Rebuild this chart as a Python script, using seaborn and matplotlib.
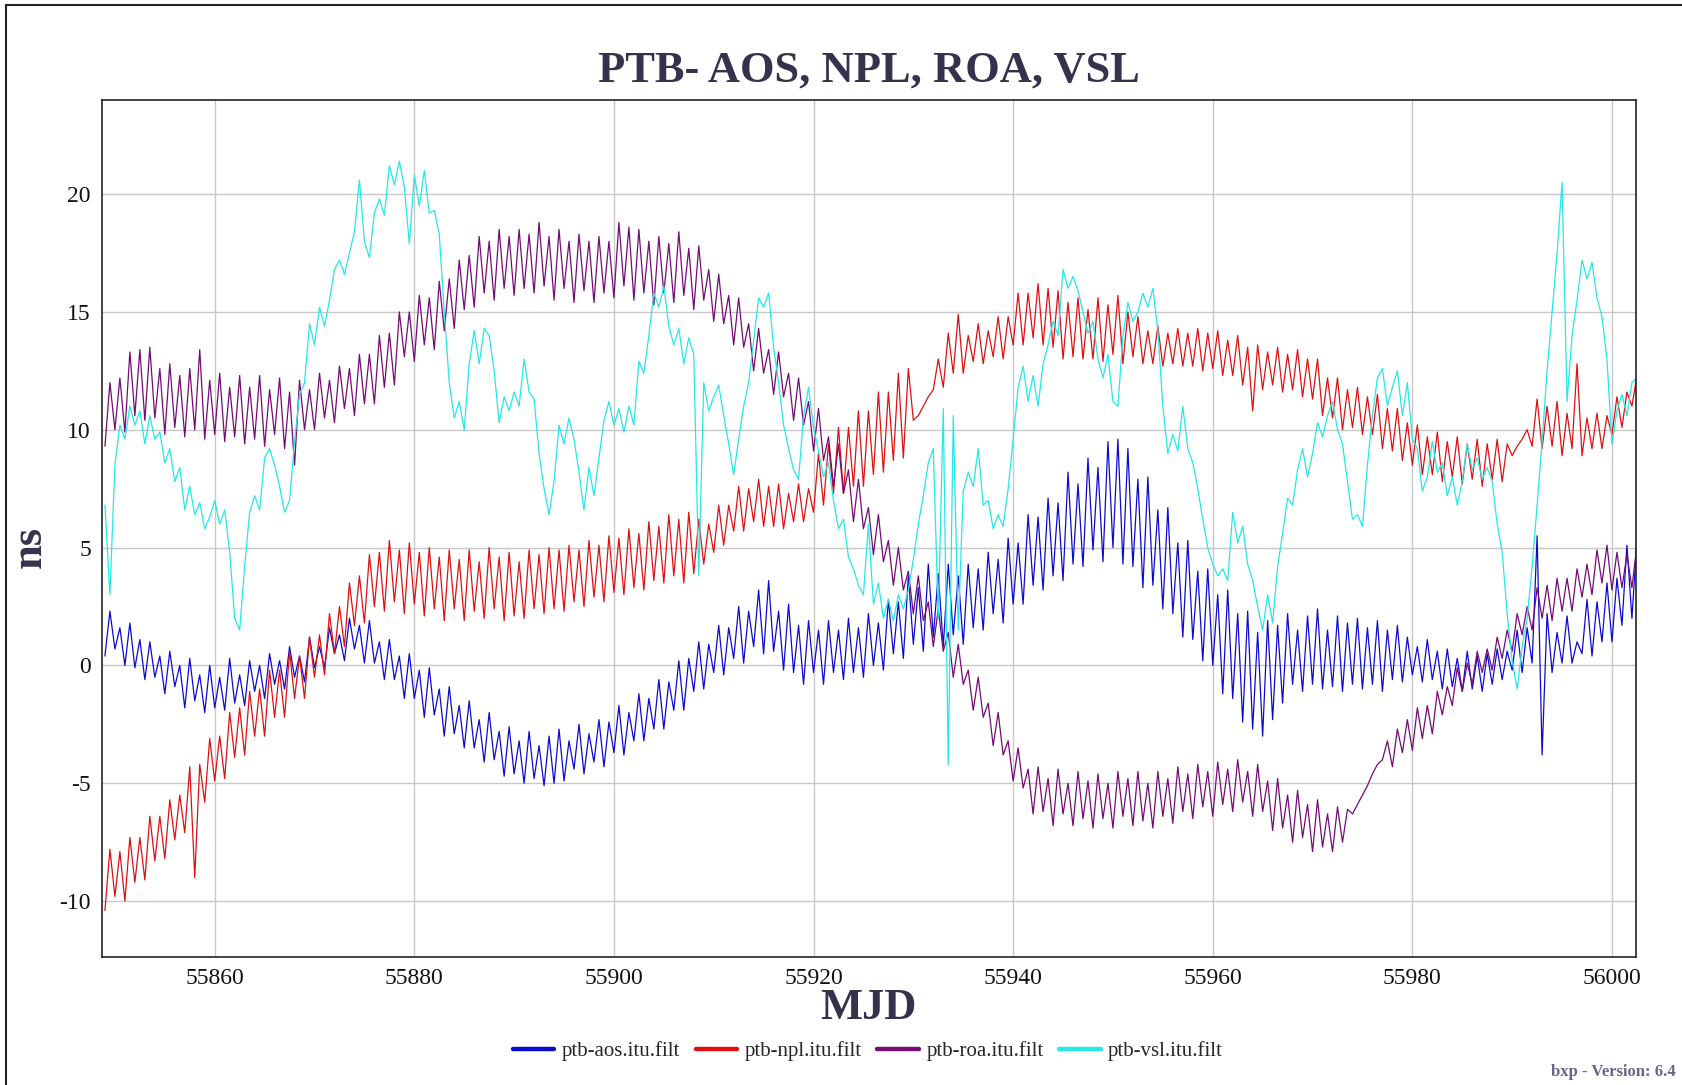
import numpy as np
import pandas as pd
import matplotlib
matplotlib.use("Agg")
import matplotlib.pyplot as plt
import seaborn as sns
from matplotlib.lines import Line2D

# ---------------- data ----------------
START_MJD = 55849          # first day of the daily lo/hi swings

series_names = ["ptb-aos.itu.filt", "ptb-npl.itu.filt", "ptb-roa.itu.filt", "ptb-vsl.itu.filt"]
series_colors = ["#0b0bd0", "#dd1111", "#760a76", "#25e8e8"]

x_ticks = [55860, 55880, 55900, 55920, 55940, 55960, 55980, 56000]
y_ticks = [-10, -5, 0, 5, 10, 15, 20]

# ptb-aos : daily low (at MJD d) and high (at MJD d+0.5), ns
aos_lo = [0.4, 0.7, 0.0, -0.1, -0.6, -0.5, -1.2, -0.9, -1.8, -1.5,
          -2.0, -1.8, -1.9, -1.6, -1.7, -1.1, -1.4, -0.8, -1.0, -0.5,
          -0.7, -0.1, -0.1, 0.5, 0.2, 0.7, 0.1, 0.1, -0.6, -0.6,
          -1.4, -1.4, -2.2, -2.1, -3.0, -2.9, -3.5, -3.5, -4.1, -4.0,
          -4.7, -4.6, -5.0, -4.8, -5.1, -5.0, -4.9, -4.4, -4.6, -4.1,
          -4.3, -3.7, -3.8, -3.2, -3.2, -2.7, -2.7, -1.9, -1.9, -1.1,
          -1.0, -0.3, -0.4, 0.3, 0.1, 0.8, 0.5, 0.6, -0.2, -0.3,
          -0.8, -0.3, -0.8, -0.3, -0.6, -0.3, -0.5, 0.0, -0.2, 0.5,
          0.3, 0.9, 0.6, 1.2, 0.8, 1.3, 0.9, 1.6, 1.5, 2.2,
          1.8, 2.6, 2.6, 3.4, 3.2, 3.8, 3.6, 4.3, 4.2, 4.9,
          4.4, 5.0, 4.3, 4.2, 3.3, 3.4, 2.4, 2.2, 1.2, 1.1,
          0.2, 0.0, -1.2, -1.4, -2.4, -2.7, -3.0, -2.3, -1.6, -0.8,
          -1.1, -0.8, -1.0, -0.9, -1.1, -0.8, -1.0, -0.8, -1.1, -0.6,
          -0.7, -0.4, -0.7, -0.6, -1.0, -0.9, -1.1, -1.0, -1.1, -0.8,
          -0.6, -0.2, -0.3, 0.1, -3.8, -0.3, 0.1, 0.1, 0.5, 0.4,
          1.0, 1.0, 1.7, 2.0]
aos_hi = [2.3, 1.6, 1.8, 1.1, 1.0, 0.4, 0.6, 0.0, 0.3, -0.4,
          0.0, -0.5, 0.3, -0.4, 0.2, 0.0, 0.5, 0.2, 0.8, 0.4,
          1.2, 0.8, 1.6, 1.3, 2.0, 1.7, 1.9, 1.0, 1.1, 0.4,
          0.5, -0.2, -0.1, -1.0, -0.9, -1.7, -1.5, -2.3, -2.0, -2.8,
          -2.6, -3.2, -2.8, -3.4, -3.0, -2.7, -3.2, -2.5, -2.9, -2.3,
          -2.4, -1.7, -2.0, -1.2, -1.4, -0.6, -0.7, 0.2, 0.3, 1.0,
          0.9, 1.7, 1.6, 2.5, 2.3, 3.2, 3.6, 2.3, 2.6, 1.7,
          1.9, 1.5, 1.9, 1.5, 2.0, 1.6, 2.2, 1.8, 2.8, 2.7,
          3.8, 3.3, 4.3, 3.9, 4.3, 3.8, 4.3, 4.1, 4.8, 4.5,
          5.4, 5.2, 6.4, 6.3, 7.1, 6.9, 8.2, 7.7, 8.8, 8.4,
          9.5, 9.6, 9.2, 7.9, 8.0, 6.6, 6.7, 5.2, 5.3, 4.0,
          4.1, 3.0, 3.2, 2.2, 2.3, 1.4, 1.9, 1.7, 2.2, 1.5,
          2.1, 2.4, 1.5, 2.1, 1.8, 2.0, 1.6, 1.9, 1.5, 1.7,
          1.2, 0.8, 1.1, 0.6, 0.7, 0.3, 0.6, 0.4, 0.5, 0.7,
          0.6, 1.5, 1.6, 5.5, 2.2, 1.4, 2.1, 1.0, 2.8, 2.7,
          3.5, 3.7, 5.1, 5.3]

# ptb-npl
npl_lo = [-10.4, -9.8, -10.0, -9.2, -9.1, -8.3, -8.2, -7.4, -7.1, -9.0,
          -5.8, -4.9, -4.8, -3.9, -3.8, -3.0, -3.0, -2.2, -2.2, -1.4,
          -1.4, -0.5, -0.4, 0.5, 0.8, 1.7, 1.8, 2.5, 2.3, 2.7,
          2.2, 2.6, 2.1, 2.4, 1.9, 2.4, 1.9, 2.3, 2.0, 2.4,
          1.9, 2.1, 2.0, 2.4, 2.2, 2.4, 2.3, 2.7, 2.5, 2.9,
          2.7, 3.1, 3.0, 3.3, 3.2, 3.6, 3.5, 3.8, 3.5, 3.9,
          4.3, 4.8, 5.1, 5.7, 5.7, 6.1, 5.9, 5.9, 5.8, 6.1,
          6.1, 6.5, 6.8, 7.3, 7.3, 7.6, 7.6, 8.1, 8.2, 8.7,
          8.8, 10.4, 11.0, 11.7, 11.8, 12.4, 12.4, 12.9, 12.8, 13.1,
          13.0, 13.6, 13.6, 13.9, 13.6, 13.5, 13.0, 13.1, 13.0, 13.0,
          12.9, 13.2, 12.8, 13.1, 12.8, 12.8, 12.7, 12.8, 12.7, 12.7,
          12.5, 12.6, 12.3, 12.3, 11.9, 10.8, 11.7, 11.9, 11.6, 11.7,
          11.4, 11.3, 10.6, 10.5, 10.0, 10.1, 9.8, 9.8, 9.2, 9.1,
          8.7, 8.5, 8.1, 8.1, 7.8, 8.0, 7.7, 7.9, 7.6, 7.9,
          7.8, 8.9, 9.6, 9.3, 9.2, 9.3, 8.9, 9.2, 8.9, 9.2,
          9.2, 9.8, 10.1, 11.0]
npl_hi = [-7.8, -7.9, -7.3, -7.3, -6.4, -6.4, -5.7, -5.5, -4.3, -4.2,
          -3.1, -3.0, -2.0, -1.8, -1.1, -1.0, -0.2, -0.2, 0.6, 0.4,
          1.2, 1.3, 2.2, 2.5, 3.5, 3.8, 4.7, 4.8, 5.3, 4.9,
          5.2, 4.8, 5.0, 4.6, 4.9, 4.5, 4.9, 4.4, 5.0, 4.6,
          4.8, 4.4, 4.9, 4.7, 5.0, 4.9, 5.1, 4.9, 5.3, 5.1,
          5.5, 5.4, 5.8, 5.6, 6.1, 5.9, 6.4, 6.2, 6.5, 6.2,
          6.0, 6.8, 6.8, 7.6, 7.5, 7.9, 7.6, 7.7, 7.3, 7.7,
          7.5, 9.0, 9.4, 10.1, 10.1, 10.8, 10.8, 11.6, 11.6, 12.4,
          12.6, 10.6, 11.4, 13.0, 14.1, 14.9, 14.0, 14.5, 14.2, 14.8,
          14.8, 15.8, 15.8, 16.2, 16.0, 15.9, 15.4, 15.6, 15.1, 15.6,
          15.3, 15.7, 15.0, 14.8, 14.2, 14.4, 14.1, 14.3, 14.1, 14.3,
          14.1, 14.2, 13.8, 14.0, 13.5, 13.6, 13.3, 13.5, 13.2, 13.4,
          13.0, 13.0, 12.2, 12.2, 11.7, 11.8, 11.4, 11.5, 10.9, 10.9,
          10.3, 10.2, 9.7, 9.9, 9.5, 9.7, 9.4, 9.6, 9.4, 9.6,
          9.4, 9.3, 10.0, 11.3, 11.0, 11.2, 10.7, 12.8, 10.5, 10.7,
          10.6, 11.4, 11.6, 12.3]

# ptb-roa
roa_lo = [9.3, 10.0, 9.9, 10.6, 10.4, 10.5, 9.8, 10.1, 9.7, 10.0,
          9.6, 9.8, 9.5, 9.7, 9.4, 9.6, 9.3, 9.8, 9.2, 8.5,
          10.0, 10.0, 10.5, 10.3, 10.9, 10.6, 11.1, 11.1, 11.8, 11.9,
          13.1, 12.9, 13.6, 13.4, 14.2, 14.3, 15.1, 15.2, 15.8, 15.5,
          16.0, 15.7, 16.0, 15.8, 16.1, 15.5, 16.0, 15.4, 15.9, 15.4,
          15.8, 15.6, 16.1, 15.5, 15.8, 15.3, 15.8, 15.4, 15.7, 15.1,
          15.5, 14.6, 14.5, 13.6, 13.5, 12.5, 12.4, 11.5, 11.4, 10.4,
          10.2, 9.1, 8.7, 7.6, 7.3, 6.1, 5.8, 4.7, 4.4, 3.4,
          3.2, 2.2, 1.9, 0.8, 0.6, -0.5, -0.8, -1.9, -2.2, -3.4,
          -3.8, -4.9, -5.2, -6.3, -6.2, -6.8, -6.3, -6.8, -6.5, -6.9,
          -6.5, -6.9, -6.4, -6.8, -6.6, -6.9, -6.4, -6.7, -6.2, -6.5,
          -6.0, -6.4, -5.9, -6.2, -5.8, -6.4, -6.2, -7.0, -6.9, -7.5,
          -7.3, -7.9, -7.7, -7.9, -7.5, -6.3, -5.5, -4.6, -4.0, -4.3,
          -3.7, -3.6, -3.1, -2.9, -2.1, -1.7, -1.1, -0.8, -0.3, -0.2,
          0.3, 0.6, 1.3, 1.5, 2.0, 1.9, 2.3, 2.3, 2.9, 3.0,
          3.5, 3.2, 3.3, 3.3]
roa_hi = [12.0, 12.2, 13.3, 13.4, 13.5, 12.6, 12.8, 12.3, 12.6, 13.4,
          12.1, 12.4, 11.8, 12.3, 11.8, 12.3, 11.7, 12.2, 11.6, 12.1,
          11.7, 12.4, 12.1, 12.7, 12.6, 13.2, 13.2, 14.0, 14.1, 15.0,
          15.0, 15.7, 15.6, 16.3, 16.4, 17.2, 17.4, 18.2, 18.0, 18.5,
          18.2, 18.5, 18.3, 18.8, 18.2, 18.5, 18.0, 18.3, 18.0, 18.2,
          18.0, 18.8, 18.6, 18.5, 18.0, 18.2, 17.9, 18.4, 17.7, 17.8,
          16.8, 16.6, 15.7, 15.6, 14.5, 14.3, 13.4, 13.3, 12.4, 12.2,
          11.2, 10.9, 9.7, 9.4, 8.3, 7.9, 6.7, 6.4, 5.3, 5.0,
          4.0, 3.8, 2.7, 2.4, 1.4, 0.9, -0.2, -0.5, -1.6, -2.0,
          -3.2, -3.5, -4.4, -4.3, -4.8, -4.4, -5.0, -4.5, -4.9, -4.6,
          -5.0, -4.5, -4.8, -4.5, -5.0, -4.5, -4.8, -4.3, -4.6, -4.2,
          -4.5, -4.1, -4.4, -4.0, -4.5, -4.2, -4.9, -4.8, -5.5, -5.3,
          -5.9, -5.7, -6.3, -6.0, -6.1, -5.9, -5.1, -4.2, -3.2, -2.7,
          -2.3, -1.8, -1.7, -1.1, -0.9, -0.1, 0.1, 0.6, 0.7, 1.2,
          1.5, 2.2, 2.5, 3.3, 3.4, 3.7, 3.7, 4.1, 4.3, 4.9,
          5.1, 4.8, 4.7, 5.1]

# ptb-vsl : values every half day starting at MJD 55849.0
vsl = [6.8, 3.0, 8.5, 10.2, 9.6, 11.0, 10.2, 10.8, 9.4, 10.6,
       9.6, 9.9, 8.6, 9.2, 7.8, 8.4, 6.6, 7.6, 6.4, 6.9,
       5.8, 6.3, 7.0, 6.0, 6.6, 4.8, 2.0, 1.5, 4.2, 6.5,
       7.2, 6.6, 8.8, 9.2, 8.5, 7.6, 6.5, 7.0, 9.5, 11.5,
       12.0, 14.5, 13.6, 15.2, 14.4, 15.5, 16.8, 17.2, 16.6, 17.5,
       18.4, 20.6, 18.0, 17.3, 19.2, 19.8, 19.1, 21.2, 20.4, 21.4,
       20.3, 17.9, 20.8, 19.5, 21.0, 19.2, 19.3, 18.3, 15.0, 12.0,
       10.5, 11.2, 10.0, 12.8, 14.2, 12.8, 14.3, 14.0, 12.5, 10.3,
       11.4, 10.8, 11.6, 11.0, 13.0, 11.6, 11.3, 9.0, 7.5, 6.4,
       7.8, 10.2, 9.4, 10.5, 9.6, 8.2, 6.6, 8.4, 7.2, 8.8,
       10.4, 11.2, 10.2, 10.9, 9.9, 11.0, 10.2, 12.9, 12.4, 14.0,
       15.8, 15.2, 16.1, 14.4, 13.6, 14.3, 12.8, 13.9, 13.2, 3.8,
       12.0, 10.8, 11.4, 11.9, 10.6, 9.4, 8.1, 9.6, 11.0, 12.0,
       13.8, 15.6, 15.2, 15.8, 13.5, 12.0, 10.2, 9.2, 8.3, 7.9,
       10.6, 11.8, 10.1, 9.1, 8.0, 8.6, 7.0, 5.8, 6.2, 4.6,
       4.1, 3.4, 3.0, 6.0, 2.6, 3.5, 2.0, 2.8, 1.9, 3.0,
       2.4, 3.2, 4.5, 6.0, 7.2, 8.6, 9.2, 2.0, 10.9, -4.2,
       10.6, 1.5, 7.4, 8.2, 7.6, 9.2, 6.8, 7.0, 5.8, 6.4,
       5.9, 7.5, 9.6, 11.8, 12.7, 11.2, 12.3, 11.0, 12.8, 13.6,
       14.6, 14.0, 16.8, 16.0, 16.5, 15.9, 15.0, 14.1, 14.6, 13.0,
       12.2, 13.2, 11.2, 11.0, 14.0, 15.4, 14.6, 15.0, 15.8, 15.2,
       16.0, 14.2, 11.0, 9.0, 9.8, 9.1, 11.0, 9.2, 8.6, 7.5,
       6.2, 5.0, 4.3, 3.8, 4.1, 3.6, 6.5, 5.2, 5.9, 4.3,
       3.6, 2.5, 1.5, 3.0, 1.8, 4.2, 5.6, 7.1, 6.8, 8.3,
       9.2, 8.0, 9.0, 10.3, 9.7, 10.6, 11.2, 10.0, 9.4, 7.8,
       6.2, 6.4, 5.9, 8.5, 10.6, 12.2, 12.6, 11.0, 11.8, 12.5,
       10.6, 12.0, 9.6, 9.2, 7.4, 8.0, 9.5, 8.2, 8.6, 7.2,
       8.0, 6.8, 7.8, 9.4, 8.3, 8.8, 7.9, 8.4, 7.8, 6.0,
       4.8, 2.2, 0.2, -1.0, 0.8, 2.0, 4.2, 6.8, 9.5, 12.5,
       15.0, 17.5, 20.5, 11.2, 14.0, 15.5, 17.2, 16.4, 17.1, 15.6,
       14.8, 13.0, 9.4, 10.8, 11.5, 10.6, 12.0, 12.2]

# ---------------- build long table ----------------
frames = []
for name, lo, hi in [(series_names[0], aos_lo, aos_hi),
                     (series_names[1], npl_lo, npl_hi),
                     (series_names[2], roa_lo, roa_hi)]:
    n = min(len(lo), len(hi))
    days = START_MJD + np.arange(n, dtype=float)
    t = np.column_stack([days, days + 0.5]).ravel()
    v = np.column_stack([np.asarray(lo[:n]), np.asarray(hi[:n])]).ravel()
    frames.append(pd.DataFrame({"MJD": t, "ns": v, "series": name}))
t_vsl = START_MJD + 0.5 * np.arange(len(vsl))
frames.append(pd.DataFrame({"MJD": t_vsl, "ns": vsl, "series": series_names[3]}))
df = pd.concat(frames, ignore_index=True)

# ---------------- plot ----------------
sns.set_theme(style="whitegrid")
plt.rcParams["font.family"] = ["Liberation Serif", "DejaVu Serif"]

fig = plt.figure(figsize=(16.82, 10.85), dpi=100)
fig.patch.set_facecolor("white")
ax = fig.add_axes([0.0606, 0.118, 0.912, 0.790])
ax.set_facecolor("white")

palette = dict(zip(series_names, series_colors))
sns.lineplot(data=df, x="MJD", y="ns", hue="series", hue_order=series_names,
             palette=palette, estimator=None, sort=False, linewidth=0.9,
             legend=False, ax=ax)

ax.set_xlim(55848.7, 56002.4)
ax.set_ylim(-12.37, 24.0)
ax.set_xticks(x_ticks)
ax.set_yticks(y_ticks)
ax.set_xticklabels([str(v) for v in x_ticks], fontsize=17, color="#111111")
ax.set_yticklabels([str(v) for v in y_ticks], fontsize=17, color="#111111")
ax.tick_params(axis="both", length=0, pad=8)
ax.grid(True, color="#c8c8c8", linewidth=1.0)
for sp in ax.spines.values():
    sp.set_color("#222222")
    sp.set_linewidth(1.2)

ax.set_title("PTB- AOS, NPL, ROA, VSL", fontsize=32, fontweight="bold",
             color="#33334d", pad=13)
ax.set_xlabel("MJD", fontsize=32, fontweight="bold", color="#33334d")
ax.xaxis.set_label_coords(0.5, -0.036)
ax.set_ylabel("ns", fontsize=32, fontweight="bold", color="#33334d")
ax.yaxis.set_label_coords(-0.034, 0.478)

handles = [Line2D([0], [0], color=c, lw=3.2) for c in series_colors]
fig.legend(handles, series_names, loc="center", bbox_to_anchor=(0.516, 0.031),
           ncol=4, frameon=False, fontsize=15, handlelength=2.0,
           handletextpad=0.35, columnspacing=0.75)

fig.text(0.996, 0.012, "bxp - Version: 6.4", ha="right", va="center",
         fontsize=12, fontweight="bold", color="#66668a")

# page frame lines (left and top)
fig.add_artist(Line2D([0.0038, 0.0038], [0.0, 0.995], transform=fig.transFigure,
                      color="#222222", lw=1.5))
fig.add_artist(Line2D([0.0038, 1.0], [0.995, 0.995], transform=fig.transFigure,
                      color="#222222", lw=1.5))

fig.savefig("out.png", dpi=100, facecolor="white")
